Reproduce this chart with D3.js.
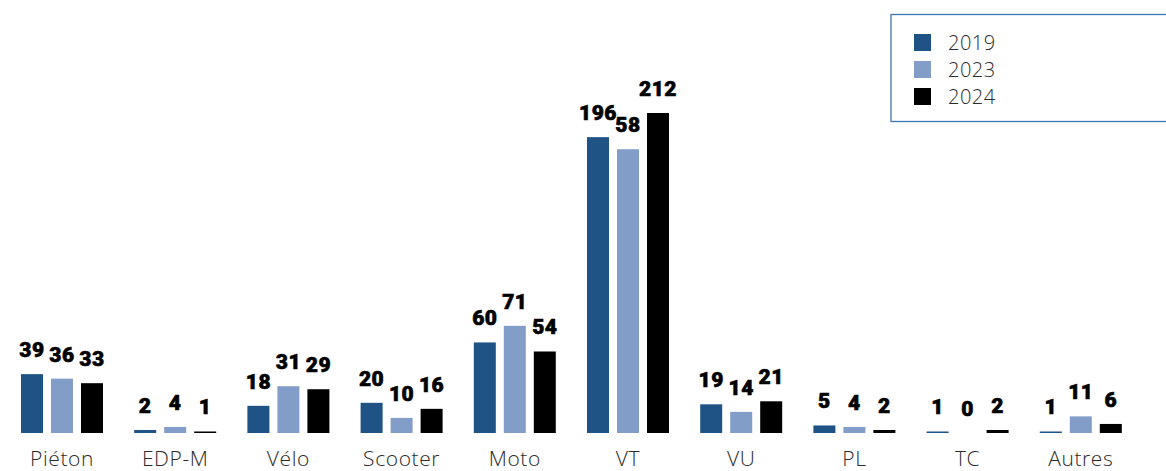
<!DOCTYPE html>
<html>
<head>
<meta charset="utf-8">
<script src="https://cdn.jsdelivr.net/npm/d3@7"></script>
<style>
  html, body { margin: 0; padding: 0; background: #fff; }
  svg { display: block; }
</style>
</head>
<body>
<svg id="chart" width="1166" height="471"></svg>
<script>
const categories = ["Piéton", "EDP-M", "Vélo", "Scooter", "Moto", "VT", "VU", "PL", "TC", "Autres"];
const seriesNames = ["2019", "2023", "2024"];
const values2019 = [39, 2, 18, 20, 60, 196, 19, 5, 1, 1];
const values2023 = [36, 4, 31, 10, 71, 188, 14, 4, 0, 11];
const values2024 = [33, 1, 29, 16, 54, 212, 21, 2, 2, 6];
// labels as printed in the source (VT 2023 is printed "58")
const labels2023 = ["36", "4", "31", "10", "71", "58", "14", "4", "0", "11"];
const colors = ["#1f5285", "#839dc9", "#000000"];

const seriesValues = [values2019, values2023, values2024];
const seriesLabels = [values2019.map(String), labels2023, values2024.map(String)];

const svg = d3.select("#chart");

const x0 = d3.scaleBand().domain(categories).range([5.4, 1137.4]).paddingInner(0.2756).paddingOuter(0.1378);
const x1 = d3.scaleBand().domain(seriesNames).range([0, x0.bandwidth()]).paddingInner(0.2667);
const y = d3.scaleLinear().domain([0, 212]).range([433, 113]);

const groups = svg.selectAll("g.cat").data(categories).join("g")
  .attr("class", "cat")
  .attr("transform", d => `translate(${x0(d)},0)`);

groups.each(function(cat, ci) {
  const g = d3.select(this);
  seriesNames.forEach((s, si) => {
    const v = seriesValues[si][ci];
    g.append("rect")
      .attr("x", x1(s))
      .attr("y", y(v))
      .attr("width", x1.bandwidth())
      .attr("height", y(0) - y(v))
      .attr("fill", colors[si])
      .attr("stroke", v === 0 ? "#e3e8f2" : "none")
      .attr("stroke-width", v === 0 ? 1 : 0);
    g.append("text")
      .attr("x", x1(s) + x1.bandwidth() / 2)
      .attr("y", y(v) - 17)
      .attr("text-anchor", "middle")
      .attr("font-family", "Roboto, 'Open Sans', sans-serif")
      .attr("font-weight", 900)
      .attr("font-size", 21)
      .attr("letter-spacing", 0.5)
      .attr("fill", "#000")
      .attr("stroke", "#000")
      .attr("stroke-width", 0.6)
      .text(seriesLabels[si][ci]);
  });
});

// category axis (labels only)
const xAxis = d3.axisBottom(x0).tickSize(0).tickPadding(0);
const axisG = svg.append("g").attr("transform", "translate(0,448)").call(xAxis);
axisG.select(".domain").remove();
axisG.selectAll("text")
  .attr("dy", "0")
  .attr("y", 18)
  .attr("font-family", "'Open Sans', sans-serif")
  .attr("font-weight", 300)
  .attr("font-size", 21)
  .attr("letter-spacing", 0.6)
  .attr("fill", "#2a2a2a");

// legend
const legend = svg.append("g");
legend.append("rect")
  .attr("x", 891).attr("y", 14.5).attr("width", 300).attr("height", 107)
  .attr("fill", "#fff").attr("stroke", "#3a78b5").attr("stroke-width", 1.3);
const items = legend.selectAll("g.item").data(seriesNames).join("g")
  .attr("class", "item")
  .attr("transform", (d, i) => `translate(914,${34 + i * 27})`);
items.append("rect").attr("width", 17).attr("height", 17).attr("fill", (d, i) => colors[i]);
items.append("text")
  .attr("x", 34).attr("y", 16)
  .attr("font-family", "'Open Sans', sans-serif")
  .attr("font-weight", 300)
  .attr("font-size", 20)
  .attr("letter-spacing", 0.5)
  .attr("fill", "#2a2a2a")
  .text(d => d);
</script>
</body>
</html>
